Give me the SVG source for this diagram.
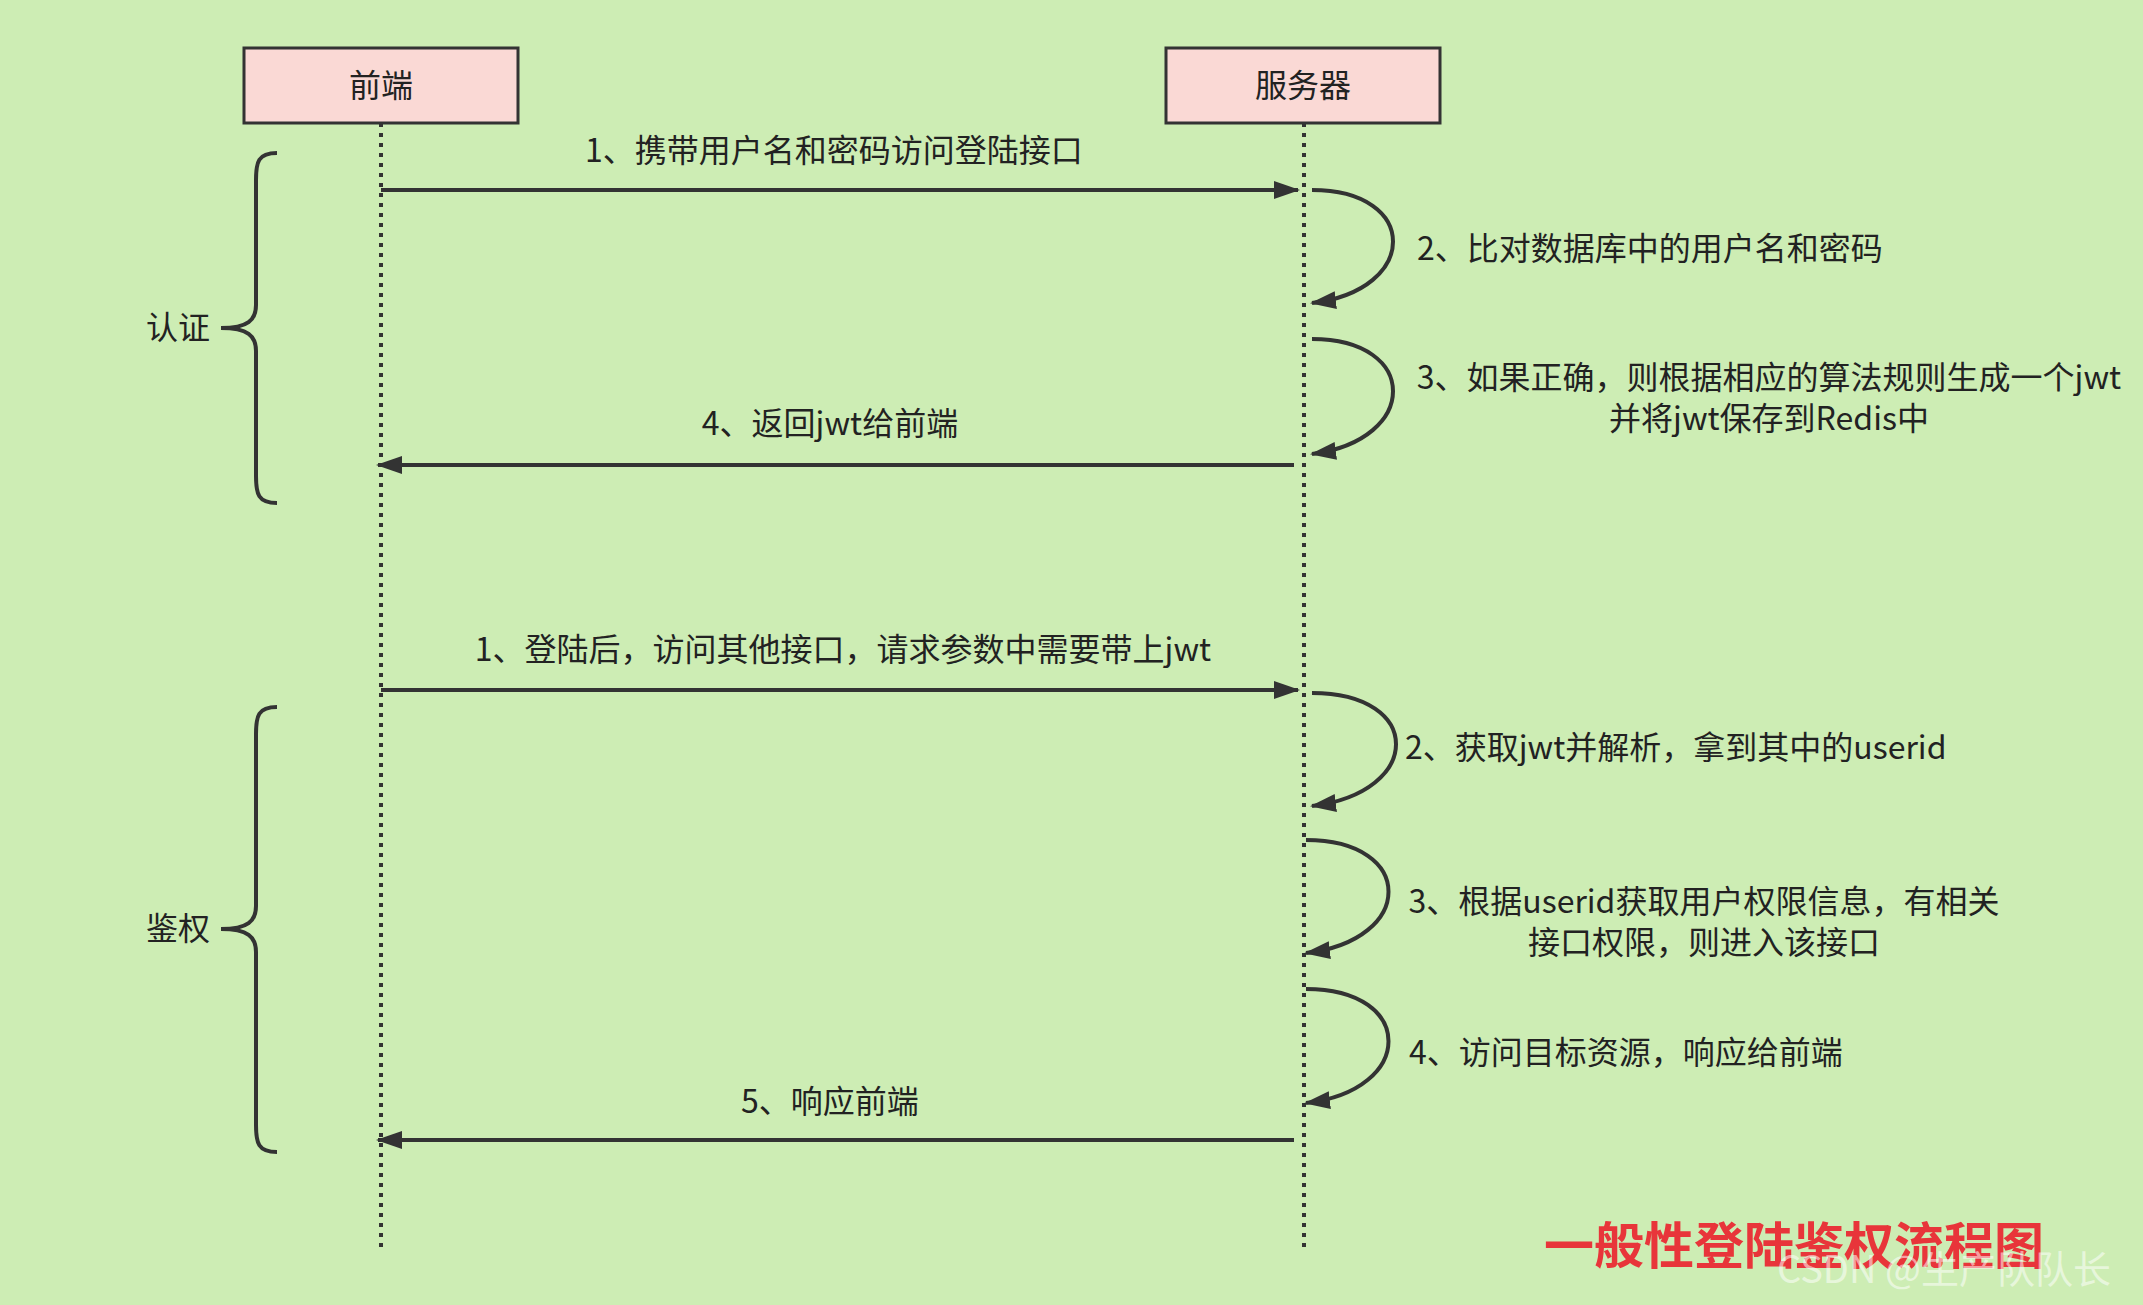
<svg xmlns="http://www.w3.org/2000/svg" width="2143" height="1305" viewBox="0 0 2143 1305">
<style>
.t{font-family:"Noto Sans CJK SC","Liberation Sans",sans-serif;font-size:32px;fill:#222}
.c{stroke:#333;stroke-width:4;fill:none}
.l{stroke:#333;stroke-width:4;stroke-dasharray:4 6;fill:none}
.b{fill:#fad9d5;stroke:#333;stroke-width:3}
</style>
<defs><marker id="a" viewBox="0 0 26 18" refX="24" refY="9" markerWidth="26" markerHeight="18" markerUnits="userSpaceOnUse" orient="auto"><path d="M0,0 L26,9 L0,18 z" fill="#333"/></marker></defs>
<rect width="2143" height="1305" fill="#cdedb4"/>
<g id="frontend"><rect class="b" x="244" y="48" width="274" height="75"/><text class="t" x="381" y="97" text-anchor="middle">前端</text></g>
<g id="server"><rect class="b" x="1166" y="48" width="274" height="75"/><text class="t" x="1303" y="97" text-anchor="middle">服务器</text></g>
<g id="connectors">
<line class="l" x1="381" y1="123" x2="381" y2="1252"/>
<line class="l" x1="1304" y1="123" x2="1304" y2="1252"/>
<line class="c" x1="381" y1="190" x2="1298" y2="190" marker-end="url(#a)"/>
<path class="c" d="M1312 190 C1420 190 1420 290 1312 303" marker-end="url(#a)"/>
<path class="c" d="M1312 339 C1420 339 1420 440 1312 454" marker-end="url(#a)"/>
<line class="c" x1="1294" y1="465" x2="378" y2="465" marker-end="url(#a)"/>
<line class="c" x1="381" y1="690" x2="1298" y2="690" marker-end="url(#a)"/>
<path class="c" d="M1312 693 C1424 693 1424 792 1312 806" marker-end="url(#a)"/>
<path class="c" d="M1306 840 C1416 840 1416 940 1306 953" marker-end="url(#a)"/>
<path class="c" d="M1306 989 C1416 989 1416 1090 1306 1103" marker-end="url(#a)"/>
<line class="c" x1="1294" y1="1140" x2="378" y2="1140" marker-end="url(#a)"/>
</g>
<g id="auth"><path class="c" d="M277 153 C258 153 256 162 256 180 L256 305 C256 320 248 328 221 328 C248 328 256 336 256 351 L256 476 C256 494 258 503 277 503"/><text class="t" x="178" y="339" text-anchor="middle">认证</text></g>
<g id="authz"><path class="c" d="M277 707 C258 707 256 716 256 734 L256 906 C256 921 248 929 221 929 C248 929 256 937 256 952 L256 1125 C256 1143 258 1152 277 1152"/><text class="t" x="178" y="940" text-anchor="middle">鉴权</text></g>
<g id="labels">
<text class="t" x="834" y="162" text-anchor="middle">1、携带用户名和密码访问登陆接口</text>
<text class="t" x="1417" y="260">2、比对数据库中的用户名和密码</text>
<text class="t" x="1769" y="389" text-anchor="middle">3、如果正确，则根据相应的算法规则生成一个jwt</text>
<text class="t" x="1769" y="430" text-anchor="middle">并将jwt保存到Redis中</text>
<text class="t" x="830" y="435" text-anchor="middle">4、返回jwt给前端</text>
<text class="t" x="843" y="661" text-anchor="middle">1、登陆后，访问其他接口，请求参数中需要带上jwt</text>
<text class="t" x="1405" y="759">2、获取jwt并解析，拿到其中的userid</text>
<text class="t" x="1704" y="913" text-anchor="middle">3、根据userid获取用户权限信息，有相关</text>
<text class="t" x="1704" y="954" text-anchor="middle">接口权限，则进入该接口</text>
<text class="t" x="1409" y="1064">4、访问目标资源，响应给前端</text>
<text class="t" x="830" y="1113" text-anchor="middle">5、响应前端</text>
</g>
<text x="1544" y="1264" style="font-family:'Noto Sans CJK SC',sans-serif;font-size:50px;font-weight:bold;fill:#e8353a">一般性登陆鉴权流程图</text>
<text x="1777" y="1283" style="font-family:'Noto Sans CJK SC',sans-serif;font-size:38px;fill:#fff;fill-opacity:0.55">CSDN @生产队队长</text>
</svg>
